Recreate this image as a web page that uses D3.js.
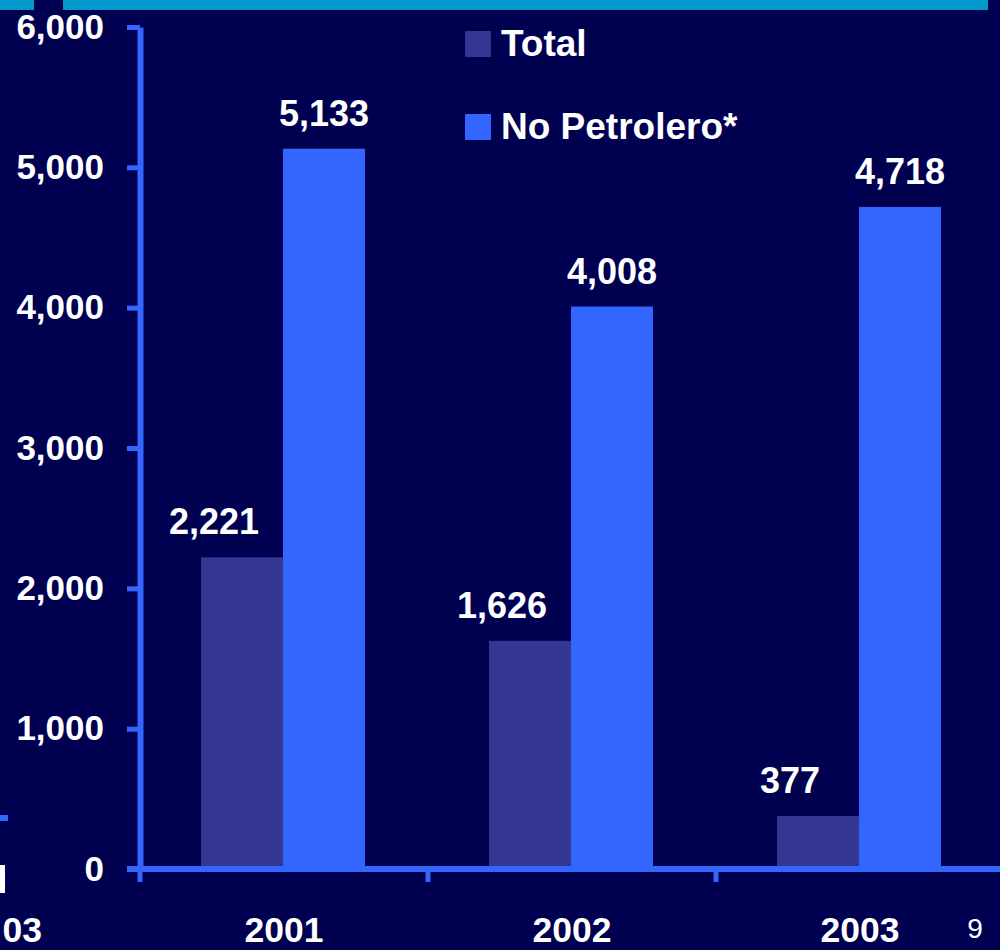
<!DOCTYPE html>
<html>
<head>
<meta charset="utf-8">
<script src="https://cdn.jsdelivr.net/npm/d3@7"></script>
<style>
  html, body { margin: 0; padding: 0; background: #000050; }
  svg { display: block; }
  text { font-family: "Liberation Sans", Arial, Helvetica, sans-serif; fill: #ffffff; }
</style>
</head>
<body>
<svg id="chart" width="1000" height="950"></svg>
<script>
// Data
const years = ["2001", "2002", "2003"];
const seriesNames = ["Total", "No Petrolero*"];
const totalValues = [2221, 1626, 377];
const noPetroleroValues = [5133, 4008, 4718];
const yTicks = [0, 1000, 2000, 3000, 4000, 5000, 6000];

const seriesColors = ["#353594", "#3366ff"];
const axisColor = "#3366ff";
const bg = "#000050";

const svg = d3.select("#chart");
svg.append("rect").attr("width", 1000).attr("height", 950).attr("fill", bg);

// Slide header band
svg.append("rect").attr("x", 0).attr("y", 0).attr("width", 34).attr("height", 10).attr("fill", "#0099cc");
svg.append("rect").attr("x", 63).attr("y", 0).attr("width", 925).attr("height", 10).attr("fill", "#0099cc");

// Edge of the neighbouring chart on the left
svg.append("rect").attr("x", 0).attr("y", 815).attr("width", 8).attr("height", 6).attr("fill", axisColor);
svg.append("rect").attr("x", 0).attr("y", 865).attr("width", 5).attr("height", 28).attr("fill", "#ffffff");
svg.append("text").attr("x", 42).attr("y", 942).attr("text-anchor", "end")
  .attr("font-size", 35.5).attr("font-weight", "bold").text("03");

// Scales
const x = d3.scaleBand().domain(years).range([140, 1004]);
const xInner = d3.scaleBand().domain(seriesNames).range([61, 225]);
const y = d3.scaleLinear().domain([0, 6000]).range([869, 27]);

// Bars
const rows = years.map((yr, i) => ({ year: yr, values: [totalValues[i], noPetroleroValues[i]] }));
const groups = svg.append("g").selectAll("g").data(rows).join("g")
  .attr("transform", d => `translate(${x(d.year)},0)`);

groups.selectAll("rect").data(d => d.values.map((v, k) => ({ k, v }))).join("rect")
  .attr("x", d => xInner(seriesNames[d.k]))
  .attr("width", xInner.bandwidth())
  .attr("y", d => y(d.v))
  .attr("height", d => y(0) - y(d.v))
  .attr("fill", d => seriesColors[d.k]);

// Value labels
groups.selectAll("text").data(d => d.values.map((v, k) => ({ k, v }))).join("text")
  .attr("x", d => xInner(seriesNames[d.k]) + xInner.bandwidth() / 2 + (d.k === 0 ? -28 : 0))
  .attr("y", d => y(d.v) - 23)
  .attr("text-anchor", "middle")
  .attr("font-size", 36).attr("font-weight", "bold")
  .text(d => d3.format(",")(d.v));

// Y axis
const yAxis = svg.append("g").attr("transform", "translate(140,0)")
  .call(d3.axisLeft(y).tickValues(yTicks).tickFormat(d3.format(",")).tickSize(13).tickSizeOuter(0).tickPadding(23));
yAxis.select(".domain").attr("stroke", axisColor).attr("stroke-width", 6);
yAxis.selectAll(".tick line").attr("stroke", axisColor).attr("stroke-width", 5);
yAxis.selectAll(".tick text").attr("font-size", 35).attr("font-weight", "bold")
  .attr("font-family", "Liberation Sans, Arial, sans-serif").attr("fill", "#ffffff");

// X axis line with ticks at category boundaries
svg.append("line").attr("x1", 127).attr("x2", 1000).attr("y1", y(0)).attr("y2", y(0))
  .attr("stroke", axisColor).attr("stroke-width", 6);
svg.append("g").selectAll("line").data(years).join("line")
  .attr("x1", d => x(d)).attr("x2", d => x(d))
  .attr("y1", y(0)).attr("y2", y(0) + 13)
  .attr("stroke", axisColor).attr("stroke-width", 5);

// Category labels
svg.append("g").selectAll("text").data(years).join("text")
  .attr("x", d => x(d) + x.bandwidth() / 2)
  .attr("y", 942)
  .attr("text-anchor", "middle")
  .attr("font-size", 35.5).attr("font-weight", "bold")
  .text(d => d);

// Legend
const legend = svg.append("g").selectAll("g").data(seriesNames).join("g")
  .attr("transform", (d, i) => `translate(465,${31 + i * 83})`);
legend.append("rect").attr("width", 26).attr("height", 26).attr("fill", (d, i) => seriesColors[i]);
legend.append("text").attr("x", 36).attr("y", 25)
  .attr("font-size", 37).attr("font-weight", "bold").text(d => d);

// Page number
svg.append("text").attr("x", 975).attr("y", 938).attr("text-anchor", "middle")
  .attr("font-size", 28).text("9");
</script>
</body>
</html>
